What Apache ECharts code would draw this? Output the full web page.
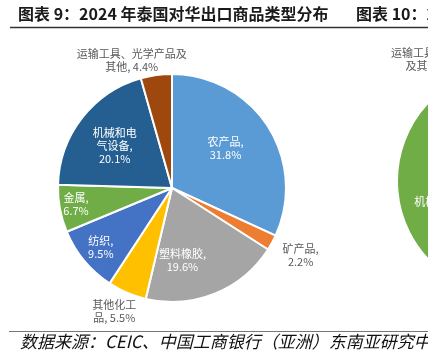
<!DOCTYPE html>
<html><head><meta charset="utf-8">
<script src="https://cdn.jsdelivr.net/npm/echarts@6/dist/echarts.min.js"></script>
<style>html,body{margin:0;padding:0;background:#fff}#c{width:428px;height:357px}</style>
</head><body><div id="c"></div>
<script>
// Chart 9: 2024 Thailand exports to China by product type (%)
const categories = ['农产品', '矿产品', '塑料橡胶', '其他化工\n品', '纺织', '金属', '机械和电\n气设备', '运输工具、光学产品及\n其他'];
const values = [31.8, 2.2, 19.6, 5.5, 9.5, 6.7, 20.1, 4.4];
// Chart 10 (mostly cut off at right edge): estimated shares
const categories2 = ['其他', '机械和电气设备', '运输工具、光学产品\n及其他'];
const values2 = [48.6, 39.2, 12.2];

const colors = ['#5B9BD5', '#ED7D31', '#A5A5A5', '#FFC000', '#4472C4', '#70AD47', '#255E91', '#9E480E'];
const seps = [',\n', ',\n', ',\n', ', ', ',\n', ',\n', ',\n', ', '];
const outside = [false, true, false, true, false, false, false, true];
const offsets = [[3, -7], [76, 39], [-12, 17], [-34, 68], [-25, 21], [-37, 5], [-10, -5], [-32, -68]];

const colors2 = ['#A5A5A5', '#70AD47', '#5B9BD5'];
const seps2 = [', ', ',\n', ', '];
const outside2 = [true, false, true];
const offsets2 = [[0, 0], [-2, 2], [-48, -66]];

const labelFont = '"Noto Sans CJK SC", sans-serif';

function buildData(cats, vals, cols, outs, hideIdx) {
  return cats.map((c, i) => ({
    name: c, value: vals[i],
    itemStyle: { color: cols[i] },
    label: { show: hideIdx !== i, color: outs[i] ? '#595959' : '#ffffff' }
  }));
}

const chart = echarts.init(document.getElementById('c'), null, { renderer: 'canvas' });
chart.setOption({
  animation: false,
  graphic: [
    { type: 'text', left: 18, top: 6, style: { text: '图表 9：2024 年泰国对华出口商品类型分布', font: 'bold 16px "Noto Sans CJK SC", sans-serif', fill: '#1a1a1a' } },
    { type: 'text', left: 356, top: 6, style: { text: '图表 10：2024 年', font: 'bold 16px "Noto Sans CJK SC", sans-serif', fill: '#1a1a1a' } },
    { type: 'line', shape: { x1: 10, y1: 27.5, x2: 428, y2: 27.5 }, style: { stroke: '#333333', lineWidth: 1.5 } },
    { type: 'line', shape: { x1: 9, y1: 331.5, x2: 428, y2: 331.5 }, style: { stroke: '#777777', lineWidth: 1 } },
    { type: 'text', left: 20, top: 333, style: { text: '数据来源：CEIC、中国工商银行（亚洲）东南亚研究中心', font: 'italic 17px "Noto Sans CJK SC", sans-serif', fill: '#111111' } }
  ],
  series: [
    {
      type: 'pie', center: [172, 188], radius: 114, startAngle: 90, clockwise: true,
      avoidLabelOverlap: false, silent: true,
      itemStyle: { borderColor: '#ffffff', borderWidth: 2 },
      label: {
        position: 'inside', fontSize: 11, lineHeight: 13, fontFamily: labelFont, align: 'center',
        formatter: p => p.name + seps[p.dataIndex] + p.value + '%'
      },
      labelLine: { show: false },
      labelLayout: p => ({ dx: offsets[p.dataIndex][0], dy: offsets[p.dataIndex][1] }),
      data: buildData(categories, values, colors, outside, -1)
    },
    {
      type: 'pie', center: [511, 181], radius: 114, startAngle: 90, clockwise: true,
      avoidLabelOverlap: false, silent: true,
      itemStyle: { borderColor: '#ffffff', borderWidth: 2 },
      label: {
        position: 'inside', fontSize: 11, lineHeight: 13, fontFamily: labelFont, align: 'center',
        formatter: p => p.name + seps2[p.dataIndex] + p.value + '%'
      },
      labelLine: { show: false },
      labelLayout: p => ({ dx: offsets2[p.dataIndex][0], dy: offsets2[p.dataIndex][1] }),
      data: buildData(categories2, values2, colors2, outside2, 0)
    }
  ]
});
</script></body></html>
